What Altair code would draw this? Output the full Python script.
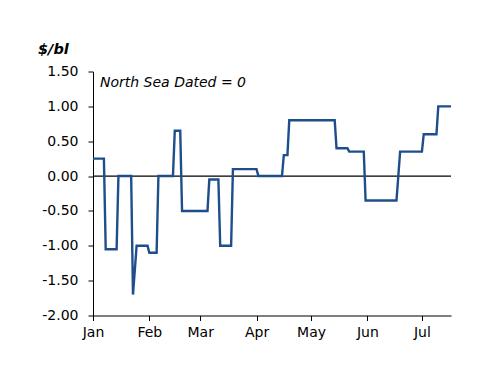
import altair as alt
import pandas as pd

dates = [
    "2011-01-01", "2011-01-07", "2011-01-08", "2011-01-14", "2011-01-15",
    "2011-01-22", "2011-01-23", "2011-01-25", "2011-01-31", "2011-02-01",
    "2011-02-05", "2011-02-06", "2011-02-14", "2011-02-15", "2011-02-18",
    "2011-02-19", "2011-03-05", "2011-03-06", "2011-03-11", "2011-03-12",
    "2011-03-18", "2011-03-19", "2011-04-01", "2011-04-02", "2011-04-15",
    "2011-04-16", "2011-04-18", "2011-04-19", "2011-05-14", "2011-05-15",
    "2011-05-21", "2011-05-22", "2011-05-30", "2011-05-31", "2011-06-17",
    "2011-06-19", "2011-07-01", "2011-07-02", "2011-07-09", "2011-07-10",
    "2011-07-17",
]
values = [
    0.25, 0.25, -1.05, -1.05, 0.0,
    0.0, -1.7, -1.0, -1.0, -1.1,
    -1.1, 0.0, 0.0, 0.65, 0.65,
    -0.5, -0.5, -0.05, -0.05, -1.0,
    -1.0, 0.1, 0.1, 0.0, 0.0,
    0.3, 0.3, 0.8, 0.8, 0.4,
    0.4, 0.35, 0.35, -0.35, -0.35,
    0.35, 0.35, 0.6, 0.6, 1.0,
    1.0,
]
y_ticks = [-2.0, -1.5, -1.0, -0.5, 0.0, 0.5, 1.0, 1.5]
month_ticks = ["2011-01-01", "2011-02-01", "2011-03-01", "2011-04-01",
               "2011-05-01", "2011-06-01", "2011-07-01"]
x_domain = ["2011-01-01", "2011-07-17"]

FONT = "DejaVu Sans"
FS = 14
df = pd.DataFrame({"date": [d + "T00:00:00" for d in dates], "value": values})


def dt(s):
    return alt.DateTime(year=int(s[0:4]), month=int(s[5:7]), date=int(s[8:10]))


x_enc = alt.X(
    "date:T",
    scale=alt.Scale(domain=[dt(x_domain[0]), dt(x_domain[1])]),
    axis=alt.Axis(
        values=[dt(m) for m in month_ticks],
        format="%b", labelFlush=False, title=None, grid=False,
        tickSize=5, labelPadding=5, labelFontSize=FS, labelFont=FONT,
        labelColor="black", domainColor="black", tickColor="black",
        labelOverlap=False,
    ),
)
y_scale = alt.Scale(domain=[-2.0, 1.5], nice=False)
y_axis = alt.Axis(
    values=y_ticks, title=None, grid=False, tickSize=5, labelPadding=10,
    labelFontSize=FS, labelFont=FONT, labelColor="black",
    domainColor="black", tickColor="black", labelOverlap=False,
    labelExpr="datum.value < 0 ? '-' + format(-datum.value, '.2f') : format(datum.value, '.2f')",
)

line = alt.Chart(df).mark_line(color="#1F4E8C", strokeWidth=2.4).encode(
    x=x_enc, y=alt.Y("value:Q", scale=y_scale, axis=y_axis)
)

zero = alt.Chart(pd.DataFrame({"value": [0.0]})).mark_rule(color="black", strokeWidth=1.2).encode(
    y=alt.Y("value:Q", scale=y_scale, axis=y_axis)
)

unit = alt.Chart(pd.DataFrame({"t": ["$/bl"]})).mark_text(
    font=FONT, fontSize=14.5, fontWeight="bold", fontStyle="italic",
    align="left", baseline="alphabetic", color="black",
).encode(text="t:N", x=alt.value(-55), y=alt.value(-17.5))

note = alt.Chart(pd.DataFrame({"t": ["North Sea Dated = 0"]})).mark_text(
    font=FONT, fontSize=14, fontStyle="italic",
    align="left", baseline="alphabetic", color="black",
).encode(text="t:N", x=alt.value(7), y=alt.value(15))

chart = alt.layer(zero, line, unit, note).properties(
    width=358, height=244,
    autosize=alt.AutoSizeParams(type="none"),
    padding={"left": 85, "top": 63.5, "right": 30, "bottom": 50},
    background="white",
).configure_view(strokeWidth=0)

chart.save("out.html", embed_options={"renderer": "svg", "actions": False})
